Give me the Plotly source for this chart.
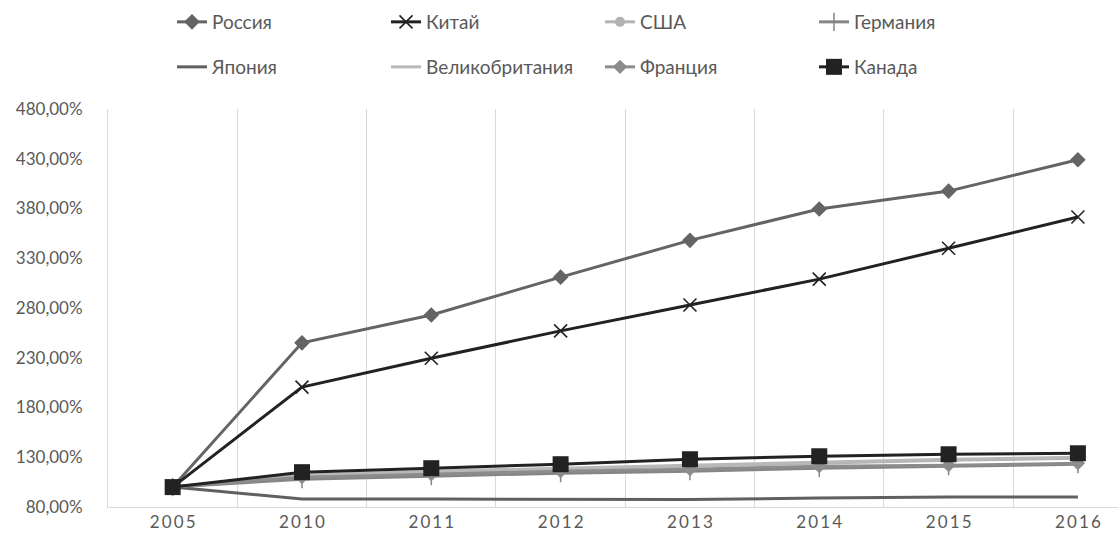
import plotly.graph_objects as go

years = ["2005", "2010", "2011", "2012", "2013", "2014", "2015", "2016"]
russia = [100, 245, 273, 311, 348, 379.5, 397.5, 429]
china = [100, 200.5, 229.5, 257, 283, 309, 340, 371.5]
usa = [100, 111, 115, 118, 121, 124, 127, 129]
germany = [100, 108, 111, 114, 116, 119, 121, 123]
japan = [100, 88, 88, 88, 87.5, 89, 90, 90]
uk = [100, 112, 116, 119, 122, 125, 128, 130]
france = [100, 110, 113, 116, 118, 121, 122, 124]
canada = [100, 115, 119, 123, 128, 131, 133, 134]

yticks = [80, 130, 180, 230, 280, 330, 380, 430, 480]
yticktext = [f"{v},00%" for v in yticks]
xticktext = ["\u2009".join(list(y)) for y in years]

series = [
    ("Россия", russia, "#646464", dict(symbol="diamond", size=12)),
    ("Китай", china, "#222222", dict(symbol="x-thin", size=13, line=dict(width=1.6, color="#222222"))),
    ("США", usa, "#b3b3b3", dict(symbol="circle", size=10)),
    ("Германия", germany, "#858585", dict(symbol="line-ns", size=13, line=dict(width=1.5, color="#858585"))),
    ("Япония", japan, "#606060", None),
    ("Великобритания", uk, "#b8b8b8", None),
    ("Франция", france, "#8c8c8c", dict(symbol="diamond", size=11)),
    ("Канада", canada, "#222222", dict(symbol="square", size=16)),
]

W, H = 1118, 540
ML, MR, MT, MB = 108, 0, 109, 33
PW, PH = W - ML - MR, H - MT - MB
FONT = "Lato"
TXT = "#595959"

fig = go.Figure()
legends = {}
for i, (name, vals, color, marker) in enumerate(series):
    legname = "legend" if i == 0 else f"legend{i + 1}"
    kw = {}
    if marker is not None:
        m = dict(color=color)
        m.update(marker)
        kw["marker"] = m
        mode = "lines+markers"
    else:
        mode = "lines"
    fig.add_trace(go.Scatter(x=years, y=vals, name=name, mode=mode,
                             line=dict(color=color, width=3), legend=legname, **kw))
    col, row = i % 4, i // 4
    text_x = 214 + col * 214
    cy = 22 + row * 45
    legends[legname] = dict(
        x=(text_x - 42 - ML) / PW, y=1 + (MT - cy) / PH,
        xanchor="left", yanchor="middle", orientation="h",
        font=dict(family=FONT, size=19, color=TXT),
        bgcolor="rgba(0,0,0,0)", borderwidth=0,
    )

fig.update_layout(
    width=W, height=H,
    margin=dict(l=ML, r=MR, t=MT, b=MB, autoexpand=False),
    paper_bgcolor="white", plot_bgcolor="white",
    font=dict(family=FONT, size=17, color=TXT),
    xaxis=dict(type="category", tickson="boundaries", showgrid=True, gridcolor="#d9d9d9",
               gridwidth=1, ticks="", showline=True, linecolor="#d9d9d9", linewidth=1,
               range=[-0.5, 7.31], tickvals=years, ticktext=xticktext,
               tickfont=dict(family=FONT, size=17, color=TXT)),
    yaxis=dict(range=[80, 480], tickvals=yticks, ticktext=yticktext,
               showgrid=False, zeroline=False, showline=True, linecolor="#d9d9d9",
               ticks="", ticklabelstandoff=21,
               tickfont=dict(family=FONT, size=17, color=TXT)),
    showlegend=True,
    **legends,
)

fig.write_html("out.html")
